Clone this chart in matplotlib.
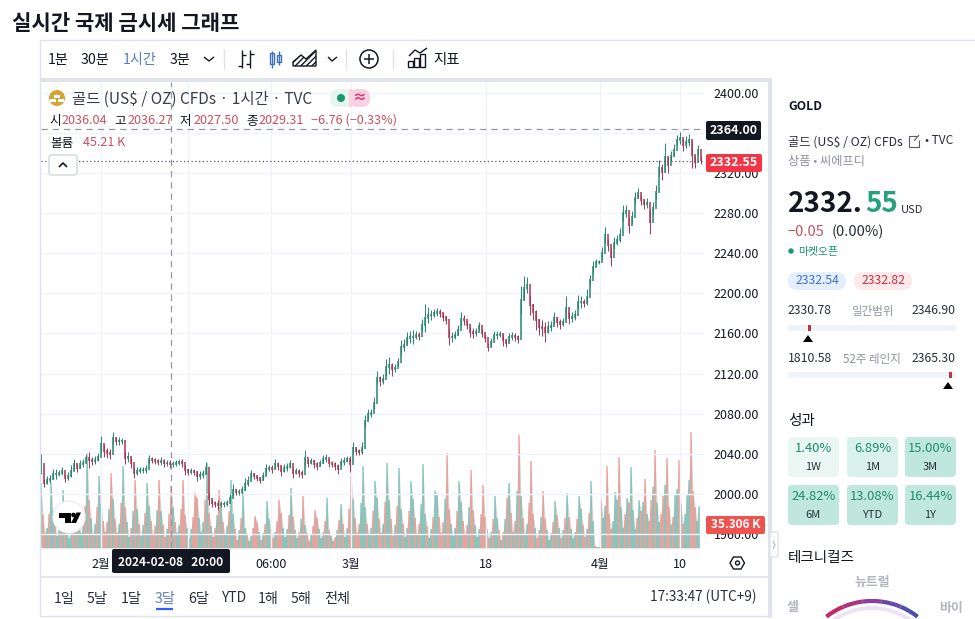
import matplotlib
matplotlib.use("Agg")
import matplotlib.pyplot as plt
from matplotlib.patches import Rectangle, FancyBboxPatch, Circle, Polygon, Arc

plt.rcParams['font.family'] = ['Noto Sans CJK KR', 'DejaVu Sans']

closes = [
    2030, 2011, 2014, 2015, 2020, 2020, 2021, 2023, 2016, 2018,
    2023, 2030, 2026, 2030, 2031, 2036, 2034, 2033, 2034, 2037,
    2050, 2043, 2041, 2040, 2056, 2053, 2053, 2053, 2036, 2037,
    2031, 2021, 2023, 2024, 2024, 2025, 2035, 2034, 2033, 2032,
    2033, 2031, 2031, 2030, 2030, 2031, 2032, 2031, 2024, 2022,
    2023, 2022, 2018, 2019, 2020, 2026, 1995, 1991, 1990, 1989,
    1990, 1990, 1991, 1996, 2004, 2002, 2002, 2004, 2010, 2013,
    2020, 2018, 2016, 2014, 2018, 2025, 2026, 2025, 2030, 2028,
    2023, 2026, 2027, 2030, 2021, 2023, 2021, 2020, 2036, 2031,
    2033, 2030, 2028, 2031, 2035, 2036, 2031, 2030, 2028, 2025,
    2032, 2033, 2035, 2030, 2046, 2043, 2042, 2046, 2073, 2080,
    2081, 2091, 2116, 2113, 2115, 2126, 2128, 2124, 2125, 2131,
    2146, 2148, 2155, 2156, 2156, 2158, 2157, 2168, 2175, 2178,
    2178, 2180, 2181, 2180, 2176, 2173, 2156, 2156, 2158, 2163,
    2174, 2173, 2168, 2161, 2160, 2161, 2167, 2160, 2155, 2146,
    2151, 2158, 2158, 2159, 2153, 2150, 2156, 2157, 2156, 2154,
    2193, 2205, 2208, 2188, 2181, 2173, 2166, 2165, 2161, 2166,
    2167, 2175, 2171, 2169, 2171, 2185, 2175, 2176, 2178, 2191,
    2191, 2190, 2196, 2213, 2226, 2231, 2231, 2240, 2258, 2248,
    2236, 2250, 2253, 2258, 2280, 2282, 2268, 2276, 2295, 2300,
    2293, 2289, 2290, 2271, 2285, 2301, 2325, 2321, 2336, 2328,
    2337, 2343, 2353, 2355, 2348, 2351, 2353, 2338, 2331, 2343,
    2333,
]
wicks = [
    10, 4, 4, 4, 5, 5, 3, 4, 4, 4,
    6, 5, 4, 4, 4, 4, 8, 4, 4, 4,
    8, 6, 5, 5, 6, 4, 4, 3, 6, 5,
    5, 5, 4, 3, 3, 4, 4, 3, 3, 3,
    4, 4, 3, 4, 3, 3, 3, 4, 5, 3,
    3, 3, 5, 4, 4, 6, 6, 4, 3, 5,
    3, 3, 3, 4, 6, 3, 3, 4, 6, 5,
    4, 3, 3, 3, 4, 5, 3, 4, 5, 4,
    5, 4, 4, 4, 5, 3, 4, 4, 8, 4,
    3, 4, 4, 3, 4, 4, 4, 3, 4, 5,
    4, 4, 3, 8, 6, 4, 3, 6, 6, 5,
    4, 6, 6, 5, 5, 8, 8, 6, 4, 4,
    7, 6, 6, 6, 7, 4, 4, 6, 14, 8,
    5, 4, 4, 4, 4, 4, 8, 5, 4, 5,
    7, 5, 4, 5, 5, 4, 4, 4, 4, 4,
    4, 4, 4, 3, 6, 4, 4, 4, 4, 4,
    14, 12, 8, 10, 8, 10, 8, 8, 10, 6,
    5, 6, 5, 5, 4, 12, 6, 5, 5, 7,
    6, 4, 8, 5, 6, 3, 2, 6, 8, 6,
    9, 6, 5, 7, 8, 6, 8, 6, 6, 5,
    5, 5, 5, 12, 6, 7, 8, 8, 14, 8,
    5, 6, 5, 6, 6, 6, 6, 13, 6, 5,
    4,
]
# volume in K
volumes = [
    95, 48, 22, 30, 50, 96, 55, 34, 18, 28, 46, 85,
    44, 26, 14, 24, 40, 66, 50, 38, 22, 34, 62, 140,
    70, 44, 20, 36, 60, 106, 64, 40, 24, 38, 58, 110,
    72, 42, 22, 36, 66, 120, 60, 38, 16, 30, 54, 100,
    58, 36, 18, 34, 52, 96, 62, 40, 20, 32, 56, 100,
    54, 34, 16, 28, 50, 91, 60, 38, 22, 34, 58, 100,
    48, 30, 14, 28, 46, 81, 74, 44, 24, 38, 70, 125,
    52, 32, 16, 30, 48, 85, 60, 38, 20, 32, 54, 100,
    50, 28, 12, 26, 44, 81, 30, 20, 10, 18, 30, 47,
    38, 24, 12, 22, 36, 69, 42, 28, 14, 24, 40, 71,
    52, 30, 16, 28, 48, 88, 46, 26, 14, 24, 42, 76,
    34, 22, 10, 20, 32, 56, 44, 28, 14, 24, 40, 74,
    26, 18, 10, 16, 26, 41, 64, 36, 16, 30, 58, 106,
    72, 44, 22, 36, 66, 120, 60, 36, 20, 30, 54, 98,
    74, 42, 22, 36, 68, 125, 70, 42, 18, 34, 62, 118,
    58, 36, 16, 30, 54, 98, 72, 44, 20, 36, 64, 123,
    50, 32, 14, 28, 46, 84, 80, 46, 22, 38, 72, 140,
    58, 36, 18, 30, 54, 98, 68, 40, 20, 34, 60, 115,
    56, 34, 16, 28, 50, 93, 46, 28, 14, 24, 42, 76,
    44, 26, 12, 24, 42, 74, 96, 52, 24, 40, 84, 166,
    76, 44, 20, 36, 66, 128, 50, 30, 14, 26, 46, 84,
    42, 26, 12, 22, 38, 69, 48, 30, 14, 26, 44, 81,
    46, 28, 14, 24, 42, 76, 58, 34, 16, 28, 52, 98,
    40, 3, 2, 2, 70, 44, 62, 120, 50, 28, 40, 82,
    70, 134, 60, 30, 50, 74, 66, 119, 56, 28, 44, 70,
    54, 68, 101, 50, 40, 70, 90, 144, 66, 38, 50, 76,
    92, 132, 60, 34, 46, 78, 86, 129, 64, 36, 50, 80,
    100, 170, 84, 60, 40, 62,
]
price_ticks = [1960, 2000, 2040, 2080, 2120, 2160, 2200, 2240, 2280, 2320, 2360, 2400]
price_labels = ['1960.00', '2000.00', '2040.00', '2080.00', '2120.00', '2160.00',
                '2200.00', '2240.00', '2280.00', '2320.00', '', '2400.00']
time_ticks = [20, 49, 76.67, 103.33, 148.33, 186.33, 213]
time_labels = ['2월', '', '06:00', '3월', '18', '4월', '10']

UP = '#23876f'
DOWN = '#ad3350'
TEXT = '#131722'
GREY = '#8f939e'
RED = '#c9505f'

fig = plt.figure(figsize=(9.75, 6.19), dpi=100)


def rect(x0, y0, x1, y1):
    return [x0 / 975, 1 - y1 / 619, (x1 - x0) / 975, (y1 - y0) / 619]


# price pane
ax = fig.add_axes(rect(41, 82, 704, 548))
ax.set_xlim(0, 221)
ax.set_ylim(1945.8, 2411)
ax.grid(True, color='#f0f3fa', lw=1)
ax.set_axisbelow(True)
for s in ax.spines.values():
    s.set_visible(False)

# volume pane shares x with price
vol = ax.twinx()
vol.set_ylim(0, 685)
vol.set_yticks([])
for s in vol.spines.values():
    s.set_visible(False)
ax.set_zorder(2)
vol.set_zorder(1)
ax.patch.set_visible(False)

ax.yaxis.tick_right()
ax.set_yticks(price_ticks, price_labels)
ax.set_xticks(time_ticks, time_labels)
ax.tick_params(axis='y', length=0, pad=7, labelsize=9, labelcolor=TEXT)
ax.tick_params(axis='x', length=0, pad=7, labelsize=9, labelcolor=TEXT)

vol_x = [i * 2 / 3 for i in range(len(volumes))]
vol.fill_between(vol_x, volumes, 0, color='#b5b3ab', alpha=0.6, lw=0)
for i, v in enumerate(volumes):
    c = i * 2 // 3
    up = closes[c] >= closes[c - 1] if c > 0 else True
    if i % 3 == 1:
        up = not up
    vol.bar(vol_x[i], v, width=0.38, color='#4db6a8' if up else '#ef7a72', alpha=0.5, lw=0)

for i, c in enumerate(closes):
    prev = closes[i - 1] if i > 0 else c
    col = UP if c >= prev else DOWN
    ax.vlines(i, c - wicks[i], c + wicks[i], color=col, lw=0.7, zorder=3)
    ax.vlines(i, min(prev, c) - 1, max(prev, c) + 1, color=col, lw=1.1, zorder=3)

ax.axhline(2364, color='#9598a1', lw=0.9, ls=(0, (5, 4)), zorder=4)
ax.axvline(43.3, color='#9598a1', lw=0.9, ls=(0, (5, 4)), zorder=4)
ax.axhline(2332.55, color='#555a66', lw=0.9, ls=(0, (1, 2)), zorder=4)

# overlay in pixel coordinates for the widget chrome
ui = fig.add_axes([0, 0, 1, 1], zorder=5)
ui.set_xlim(0, 975)
ui.set_ylim(619, 0)
ui.axis('off')


def t(x, y, s, size=9.5, color=TEXT, ha='left', weight='normal', **kw):
    # hangul boxes sit a little high
    if any(ord(ch) >= 0x3000 for ch in s):
        y = y + 1
    ui.text(x, y, s, fontsize=size, color=color, ha=ha, va='center', fontweight=weight, **kw)


def box(x0, y0, x1, y1, fc, ec='none', r=3, lw=1):
    ui.add_patch(FancyBboxPatch((x0 + r, y0 + r), x1 - x0 - 2 * r, y1 - y0 - 2 * r,
                                boxstyle='round,pad=%g,rounding_size=%g' % (r, r),
                                fc=fc, ec=ec, lw=lw))


def line(xs, ys, color=TEXT, lw=1):
    ui.plot(xs, ys, color=color, lw=lw, solid_capstyle='butt')


t(12, 22, '실시간 국제 금시세 그래프', size=15.2, weight='bold')

# frame and bands
line([40, 40], [40, 616], '#e0e3eb')
line([40, 975], [40, 40], '#e0e3eb')
line([40, 768], [616, 616], '#e0e3eb')
ui.add_patch(Rectangle((41, 78), 727, 4, fc='#e0e3eb', lw=0))
ui.add_patch(Rectangle((768, 78), 4, 540, fc='#e0e3eb', lw=0))
line([41, 768], [577, 577], '#e0e3eb', 1.2)

# toolbar
for x, s, c in [(48, '1분', TEXT), (81, '30분', TEXT), (123, '1시간', '#5b7dbd'), (170, '3분', TEXT)]:
    t(x, 59, s, size=10.2, color=c)
line([204, 209, 214], [57, 61, 57], TEXT, 1)
for x in [224, 346, 393]:
    line([x, x], [49, 69], '#e0e3eb', 1)
line([242, 242], [50, 68], TEXT, 1)
line([238, 242], [66, 66], TEXT, 1)
line([242, 246], [55, 55], TEXT, 1)
line([250, 250], [50, 68], TEXT, 1)
line([246, 250], [64, 64], TEXT, 1)
line([250, 254], [54, 54], TEXT, 1)
for x, y0, y1 in [(272, 51, 68), (279, 51, 65)]:
    line([x, x], [y0, y1], '#3d6fc4', 1)
ui.add_patch(Rectangle((270, 53), 4, 11, fc='white', ec='#3d6fc4', lw=1))
ui.add_patch(Rectangle((277, 55), 4, 7, fc='white', ec='#3d6fc4', lw=1))
ui.add_patch(Polygon([(293, 66), (293, 62), (301, 55), (306, 59), (316, 50), (316, 66)],
                     fc='white', ec=TEXT, lw=1, hatch='//////'))
line([328, 332, 337], [57, 61, 57], TEXT, 1)
ui.add_patch(Circle((369, 59), 9, fc='white', ec=TEXT, lw=1.1))
line([364, 374], [59, 59], TEXT, 1.1)
line([369, 369], [54, 64], TEXT, 1.1)
for x, h in [(410, 6), (416, 9), (422, 13)]:
    ui.add_patch(Rectangle((x - 2, 67 - h), 5, h, fc='white', ec=TEXT, lw=1))
line([409, 415, 420, 427], [56, 50, 53, 48], TEXT, 1)
t(433, 59, '지표', size=10.4)

# legend
ui.add_patch(Circle((57, 98), 8, fc='#d6a433', lw=0))
ui.add_patch(Rectangle((54, 95), 6, 3, fc='white', lw=0))
ui.add_patch(Rectangle((50, 99), 6, 3, fc='white', lw=0))
ui.add_patch(Rectangle((58, 99), 6, 3, fc='white', lw=0))
t(72, 98, '골드 (US$ / OZ) CFDs · 1시간 · TVC', size=11.1, color='#3a3e4a')
box(330, 89, 352, 107, '#e6f5f0', r=8)
box(349, 89, 370, 107, '#fbd0e0', r=8)
ui.add_patch(Rectangle((349, 89), 3, 18, fc='#fbd0e0', lw=0))
ui.add_patch(Circle((341, 98), 4, fc='#17996f', lw=0))
t(359, 98, '≈', size=10, color='#d6336c', ha='center', weight='bold')
row = [(49, '시', TEXT), (62, '2036.04', RED), (114, '고', TEXT), (128, '2036.27', RED), (180, '저', TEXT),
       (194, '2027.50', RED), (246, '종', TEXT), (259, '2029.31', RED), (311, '−6.76 (−0.33%)', RED)]
for x, s, c in row:
    t(x, 120, s, size=9.1, color=c)
t(50, 142, '볼륨', size=9.1)
t(83, 142, '45.21 K', size=9, color=RED)
box(49, 155, 77, 175, 'white', '#d1d4dc', r=3)
line([59, 63, 67], [167, 163, 167], TEXT, 1.2)

# TradingView mark
ui.add_patch(Circle((69, 517), 16, fc='white', ec='#eceef2', lw=1))
ui.add_patch(Rectangle((59, 513), 12, 4.5, fc='black', lw=0))
ui.add_patch(Rectangle((65, 513), 5.5, 10, fc='black', lw=0))
ui.add_patch(Circle((73.5, 515), 2.3, fc='black', lw=0))
ui.add_patch(Polygon([(71, 523), (76.5, 512.5), (81, 512.5), (76, 523)], fc='black', lw=0))

# axis labels
box(706, 121, 761, 140, '#131722', r=2)
t(733.5, 130.5, '2364.00', size=9, color='white', ha='center', weight='bold')
box(706, 154, 762, 172, '#f23645', r=2)
t(734, 163, '2332.55', size=9, color='white', ha='center', weight='bold')
box(706, 516, 765, 534, '#ef5350', r=2)
t(735.5, 525, '35.306 K', size=8.5, color='white', ha='center', weight='bold')
box(112, 549, 230, 573, '#131722', r=2)
t(171, 562, '2024-02-08   20:00', size=8.6, color='white', ha='center', weight='bold')
ui.add_patch(Polygon([(730, 563), (733.5, 557), (741, 557), (744.5, 563), (741, 569), (733.5, 569)],
                     fc='white', ec=TEXT, lw=1))
ui.add_patch(Circle((737.5, 563), 2, fc='white', ec=TEXT, lw=1))

# range buttons
for x, s in [(54, '1일'), (87, '5날'), (121, '1달'), (188, '6달'), (258, '1해'), (291, '5해'), (324, '전체')]:
    t(x, 598, s, size=10.2, color='#2a2e39')
t(221, 598, 'YTD', size=10, color='#2a2e39')
t(155, 598, '3달', size=10.2, color='#5b7dbd')
line([156, 173], [608.5, 608.5], '#2962ff', 1.6)
t(757, 597, '17:33:47 (UTC+9)', size=9.8, ha='right', color='#2a2e39')

# side panel
box(770, 532, 778, 557, 'white', '#e0e3eb', r=2)
line([773, 775, 773], [541, 545, 549], '#b2b5be', 0.8)
t(788, 106, 'GOLD', size=8.8, weight='bold')
t(788, 141, '골드 (US$ / OZ) CFDs', size=8.8, color='#2a2e39')
line([917, 909, 909, 919, 919], [136, 136, 147, 147, 140], '#555a66', 0.8)
line([914, 919], [141, 135], '#555a66', 0.8)
t(925, 141, '• TVC', size=8.6, color='#2a2e39')
t(788, 161, '상품 • 씨에프디', size=8.8, color=GREY)
t(788, 204, '2332.', size=20, weight='bold')
t(865, 204, '55', size=20, weight='bold', color='#26a17b')
t(901, 210, 'USD', size=8, color='#2a2e39')
t(788, 232, '−0.05', size=10.5, color=RED)
t(832, 232, '(0.00%)', size=10.5, color='#2a2e39')
ui.add_patch(Circle((791, 251), 2.7, fc='#17996f', lw=0))
t(798, 251, '마켓오픈', size=7.8, color='#17996f')
box(788, 272, 846, 290, '#e3effd', r=9)
t(817, 281, '2332.54', size=8.8, color='#3f6fd0', ha='center')
box(854, 272, 912, 290, '#fde8ea', r=9)
t(883, 281, '2332.82', size=8.8, color='#c8304a', ha='center')

for y, lo, mid, hi, mark in [(311, '2330.78', '일간범위', '2346.90', 809), (358, '1810.58', '52주 레인지', '2365.30', 950)]:
    t(788, y, lo, size=8.8, color='#2a2e39')
    t(872, y, mid, size=8.3, color=GREY, ha='center')
    t(956, y, hi, size=8.8, color='#2a2e39', ha='right')
    ui.add_patch(Rectangle((788, y + 14), 168, 6, fc='#f0f3fa', lw=0))
    ui.add_patch(Rectangle((mark - 1.5, y + 14), 3, 6, fc='#c8304a', lw=0))
    tx = mark - 1 if mark < 900 else mark - 2
    ui.add_patch(Polygon([(tx - 5, y + 31), (tx + 5, y + 31), (tx, y + 24)], fc='black', lw=0))

t(788, 420, '성과', size=10.5)
tiles = [(788, 437, '1.40%', '1W', '#eaf7f3'), (847, 437, '6.89%', '1M', '#d8f1eb'), (905, 437, '15.00%', '3M', '#bfe7dd'),
         (788, 485, '24.82%', '6M', '#bfe7dd'), (847, 485, '13.08%', 'YTD', '#bfe7dd'), (905, 485, '16.44%', '1Y', '#bfe7dd')]
for x, y, val, lab, c in tiles:
    box(x, y, x + 51, y + 40, c, r=4)
    t(x + 25.5, y + 12, val, size=9.3, color='#1f8a70', ha='center')
    t(x + 25.5, y + 30, lab, size=8, color='#2a2e39', ha='center')

t(788, 557, '테크니컬즈', size=10.5)
t(872, 581, '뉴트럴', size=9.3, color='#b2b5be', ha='center', weight='bold')
t(787, 606, '셀', size=9.3, color='#b2b5be', weight='bold')
t(963, 607, '바이', size=9.3, color='#b2b5be', ha='right', weight='bold')

# gauge, clipped by the bottom of the picture
arc_cols = ['#c02a68', '#a9357f', '#8a3f9a', '#6a4aa8', '#4a4fb0']
for k, c in enumerate(arc_cols):
    ui.add_patch(Arc((872, 675), 148, 148, angle=0, theta1=232 + 15.2 * k, theta2=232 + 15.2 * (k + 1),
                     color=c, lw=3))
ui.add_patch(Arc((872, 675), 134, 134, angle=0, theta1=235, theta2=305, color='#ece4f4', lw=3))

fig.savefig('out.png', dpi=100)
